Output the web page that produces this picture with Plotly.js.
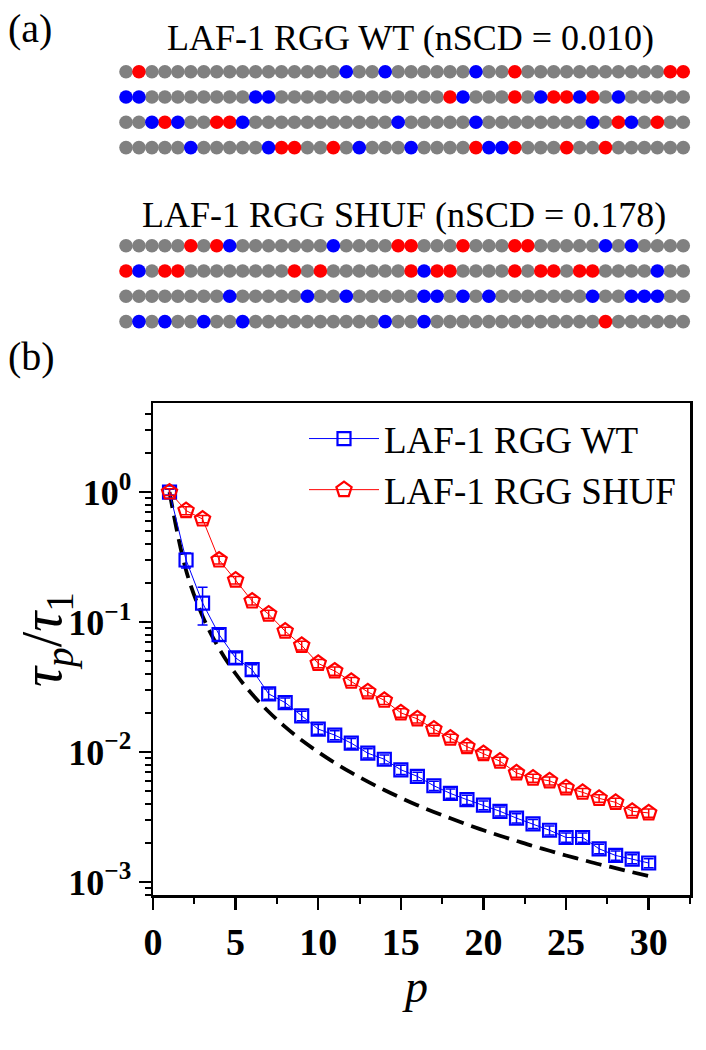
<!DOCTYPE html>
<html>
<head>
<meta charset="utf-8">
<script src="https://cdn.plot.ly/plotly-3.0.1.min.js"></script>
<style>
  html, body { margin: 0; padding: 0; background: #fff; }
  #chart { width: 706px; height: 1050px; }
</style>
</head>
<body>
<div id="chart"></div>
<script>
// ---------------- DATA ----------------
// Panel (a): charge pattern, 4 rows x 44 residues per sequence
const residuesPerRow = 44;
const wtNeg  = [[1,30,42,43],[25,30,33,34,36],[3,7,8,38,41],[12,13,16,27,30,34,37]];
const wtPos  = [[17,20,27],[0,1,10,11,26,32,35,38],[2,4,9,21,27,36,39],[5,11,18,22,28,29]];
const shufNeg = [[5,7,21,22,26,30,31],[0,3,4,13,15,22,24,25,30,32,33,35,36],[],[37]];
const shufPos = [[8,16,37,39],[1,23,41],[8,14,17,23,24,26,28,36,39,40,41],[1,3,6,9,20,23]];
const wtTitle = "LAF-1 RGG WT (nSCD = 0.010)";
const shufTitle = "LAF-1 RGG SHUF (nSCD = 0.178)";

// Panel (b): Rouse-mode relaxation times
const modeP = [1,2,3,4,5,6,7,8,9,10,11,12,13,14,15,16,17,18,19,20,21,22,23,24,25,26,27,28,29,30];
const wtTau = [1.0,0.30,0.14,0.080,0.053,0.043,0.028,0.024,0.019,0.015,0.0135,0.0117,0.0098,0.0088,0.0073,0.0065,0.0055,0.0048,0.0043,0.0039,0.0035,0.0031,0.0028,0.0025,0.0022,0.0022,0.0018,0.0016,0.0015,0.0014];
const wtErr = [0.05,0.04,0.045,0.008,0.005,0.004,0.0025,0.002,0.0016,0.0013,0.0011,0.001,0.0008,0.0007,0.0006,0.0005,0.00045,0.0004,0.00035,0.0003,0.00028,0.00025,0.00022,0.0002,0.00018,0.00018,0.00015,0.00013,0.00012,0.00011];
const shufTau = [1.0,0.72,0.62,0.30,0.21,0.145,0.115,0.085,0.066,0.048,0.042,0.035,0.029,0.025,0.020,0.018,0.015,0.0128,0.011,0.0097,0.0085,0.0069,0.0063,0.0060,0.0053,0.0049,0.0044,0.0041,0.0035,0.0034];
const shufErr = [0.06,0.05,0.04,0.02,0.014,0.01,0.008,0.006,0.005,0.0035,0.003,0.0025,0.002,0.0018,0.0015,0.0013,0.0011,0.0009,0.0008,0.0007,0.0006,0.0005,0.00045,0.00043,0.0004,0.00035,0.0003,0.0003,0.00025,0.00025];
const idealTau = [1,0.25,0.111,0.0625,0.04,0.0278,0.0204,0.0156,0.0123,0.01,0.00826,0.00694,0.00592,0.0051,0.00444,0.0039,0.00346,0.00309,0.00277,0.0025,0.00227,0.00207,0.00189,0.00174,0.0016,0.00148,0.00137,0.00128,0.00119,0.00111];
const seriesNames = ["LAF-1 RGG WT", "LAF-1 RGG SHUF"];
const xTicks = [0,5,10,15,20,25,30];
const yTickVals = [1,0.1,0.01,0.001];
const yTickText = ["10<sup>0</sup>","10<sup>\u22121</sup>","10<sup>\u22122</sup>","10<sup>\u22123</sup>"];

// ---------------- HELPERS ----------------
const W = 706, H = 1050;
const fx = x => x / W;
const fy = y => 1 - y / H;
const FONT = "Liberation Serif, Times New Roman, serif";
const GRAY = "#808080", RED = "#ff0000", BLUE = "#0000ff";

function seqTraces(neg, pos, xa, ya) {
  const g = {x:[],y:[]}, r = {x:[],y:[]}, b = {x:[],y:[]};
  for (let row = 0; row < neg.length; row++) {
    for (let i = 0; i < residuesPerRow; i++) {
      let t = g;
      if (neg[row].includes(i)) t = r;
      else if (pos[row].includes(i)) t = b;
      t.x.push(i); t.y.push(row);
    }
  }
  const mk = (d, c) => ({
    type: "scatter", mode: "markers", x: d.x, y: d.y, xaxis: xa, yaxis: ya,
    marker: {color: c, size: 13.6, line: {width: 0}}, showlegend: false,
    hoverinfo: "skip", cliponaxis: false
  });
  return [mk(g, GRAY), mk(r, RED), mk(b, BLUE)];
}

const traces = [];
traces.push(...seqTraces(wtNeg, wtPos, "x2", "y2"));
traces.push(...seqTraces(shufNeg, shufPos, "x3", "y3"));

traces.push({
  type: "scatter", mode: "lines", x: modeP, y: idealTau,
  line: {color: "black", width: 3.8, dash: "16px,8px", shape: "spline"},
  showlegend: false, hoverinfo: "skip"
});
traces.push({
  type: "scatter", mode: "lines+markers", name: seriesNames[0],
  x: modeP, y: wtTau,
  error_y: {type: "data", array: wtErr, visible: true, color: BLUE, thickness: 1.5, width: 5},
  line: {color: BLUE, width: 1},
  marker: {symbol: "square-open", size: 13, color: BLUE, line: {width: 2.2, color: BLUE}}
});
traces.push({
  type: "scatter", mode: "lines+markers", name: seriesNames[1],
  x: modeP, y: shufTau,
  error_y: {type: "data", array: shufErr, visible: true, color: RED, thickness: 1.5, width: 5},
  line: {color: RED, width: 1},
  marker: {symbol: "pentagon-open", size: 16, color: RED, line: {width: 2.2, color: RED}}
});

// axis mapping for panel (a): residue i centre at 126 + 12.96*i px
const seqX = {domain: [0, 1], range: [-126/12.96, (W-126)/12.96], visible: false, fixedrange: true};
const rowPitch = 25.3;
function seqY(firstRowPx) {
  const top = firstRowPx - 0.5*rowPitch, bot = firstRowPx + 3.5*rowPitch;
  return {domain: [fy(bot), fy(top)], range: [3.5, -0.5], visible: false, fixedrange: true};
}

const layout = {
  width: W, height: H,
  margin: {l: 0, r: 0, t: 0, b: 0},
  paper_bgcolor: "white", plot_bgcolor: "white",
  font: {family: FONT, color: "black"},
  showlegend: true,
  xaxis: {
    domain: [fx(153), fx(690)], range: [0, 32.5], anchor: "y",
    tickmode: "array", tickvals: xTicks, ticks: "outside", ticklen: 12, tickwidth: 2.5, tickcolor: "black",
    minor: {ticks: "outside", ticklen: 6, tickwidth: 2, tickcolor: "black", dtick: 2.5, tick0: 2.5},
    tickfont: {family: FONT, size: 38, weight: "bold"},
    showline: true, linewidth: 2.5, linecolor: "black", mirror: true,
    showgrid: false, zeroline: false
  },
  yaxis: {
    type: "log", domain: [fy(895), fy(403)], range: [-3.1, 0.685], anchor: "x",
    tickmode: "array", tickvals: yTickVals, ticktext: yTickText,
    ticks: "outside", ticklen: 12, tickwidth: 2.5, tickcolor: "black",
    minor: {ticks: "outside", ticklen: 6, tickwidth: 2, tickcolor: "black", dtick: "D1"},
    tickfont: {family: FONT, size: 36, weight: "bold"},
    showline: true, linewidth: 2.5, linecolor: "black", mirror: true,
    showgrid: false, zeroline: false
  },
  xaxis2: Object.assign({anchor: "y2"}, seqX),
  yaxis2: Object.assign({anchor: "x2"}, seqY(71.7)),
  xaxis3: Object.assign({anchor: "y3"}, seqX),
  yaxis3: Object.assign({anchor: "x3"}, seqY(245.7)),
  legend: {
    x: fx(304), y: fy(408), xanchor: "left", yanchor: "top",
    bgcolor: "rgba(0,0,0,0)", borderwidth: 0,
    font: {family: FONT, size: 37}, itemwidth: 70, tracegroupgap: 0
  },
  annotations: [
    {text: "(a)", x: fx(6), y: fy(4), xref: "paper", yref: "paper", xanchor: "left", yanchor: "top", showarrow: false, font: {family: FONT, size: 40}},
    {text: wtTitle, x: fx(410), y: fy(38), xref: "paper", yref: "paper", xanchor: "center", yanchor: "middle", showarrow: false, font: {family: FONT, size: 36}},
    {text: shufTitle, x: fx(404), y: fy(215), xref: "paper", yref: "paper", xanchor: "center", yanchor: "middle", showarrow: false, font: {family: FONT, size: 36}},
    {text: "(b)", x: fx(6), y: fy(356), xref: "paper", yref: "paper", xanchor: "left", yanchor: "middle", showarrow: false, font: {family: FONT, size: 40}},
    {text: "<i>\u03c4<sub>p</sub></i>/<i>\u03c4</i><sub>1</sub>", x: fx(46), y: fy(640), xref: "paper", yref: "paper", xanchor: "center", yanchor: "middle", textangle: -90, showarrow: false, font: {family: FONT, size: 56}},
    {text: "<i>p</i>", x: fx(415), y: fy(986), xref: "paper", yref: "paper", xanchor: "center", yanchor: "middle", showarrow: false, font: {family: FONT, size: 46}}
  ]
};

Plotly.newPlot("chart", traces, layout, {displayModeBar: false, staticPlot: true});
</script>
</body>
</html>
